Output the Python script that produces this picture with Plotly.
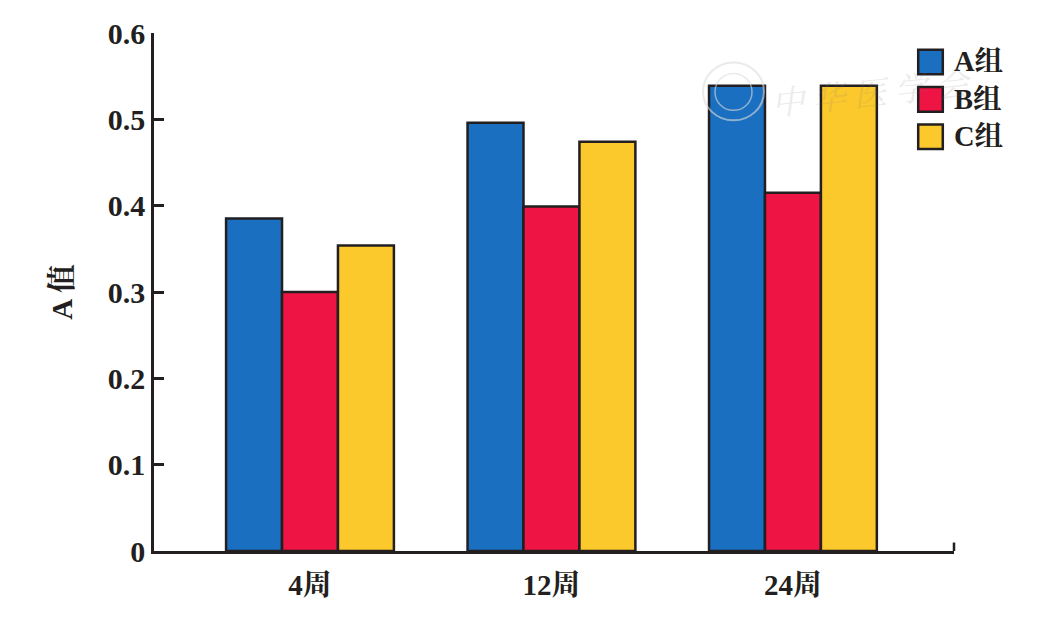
import plotly.graph_objects as go

categories = ["4周", "12周", "24周"]
series_names = ["A组", "B组", "C组"]
group_a = [0.385, 0.496, 0.539]
group_b = [0.300, 0.399, 0.415]
group_c = [0.354, 0.474, 0.539]
y_ticks = [0, 0.1, 0.2, 0.3, 0.4, 0.5, 0.6]
y_labels = ["0", "0.1", "0.2", "0.3", "0.4", "0.5", "0.6"]
colors = ["#1a6fc0", "#ee1443", "#fcc92d"]
INK = "#231f20"
FONT = "Liberation Serif, Noto Serif CJK SC, Noto Sans CJK SC, serif"

fig = go.Figure()
for name, vals, col in zip(series_names, [group_a, group_b, group_c], colors):
    fig.add_trace(go.Bar(x=[0, 1, 2], y=vals, name=name,
                         marker=dict(color=col, line=dict(color=INK, width=2.5)), showlegend=False))

# page offset: the browser body has an 8px margin
OFF = 8
W, H = 1044 - OFF, 620 - OFF
L, R, T, B = 154, 954, 32.5, 551.5
def px(x): return (x - L) / (R - L)
def py(y): return (B - y) / (B - T)

shapes = [dict(type="line", xref="paper", yref="paper", x0=1, x1=1, y0=0, y1=py(543),
               line=dict(color=INK, width=2.5))]
annotations = []
for i, (name, col) in enumerate(zip(series_names, colors)):
    cy = 61.5 + i * 37.5
    shapes.append(dict(type="rect", xref="paper", yref="paper", x0=px(918.2), x1=px(942.8),
                       y0=py(cy + 12.3), y1=py(cy - 12.3),
                       fillcolor=col, line=dict(color=INK, width=2.5)))
    annotations.append(dict(xref="paper", yref="paper", x=px(951.5), y=py(cy), text=f"<b>{name}</b>",
                            showarrow=False, xanchor="left", yanchor="middle",
                            font=dict(family=FONT, size=28.5, color=INK)))
annotations.append(dict(xref="paper", yref="paper", x=px(872), y=py(94), text="<i>中 华 医 学 会</i>",
                        showarrow=False, xanchor="center", yanchor="middle", textangle=-6, opacity=0.14,
                        font=dict(family=FONT, size=33, color="#777777")))
shapes.append(dict(type="circle", xref="paper", yref="paper", x0=px(703), x1=px(764), y0=py(120), y1=py(62),
                   line=dict(color="#dddddd", width=2), opacity=0.6, layer="above"))
shapes.append(dict(type="circle", xref="paper", yref="paper", x0=px(715), x1=px(752), y0=py(110), y1=py(73),
                   line=dict(color="#dddddd", width=1.5), opacity=0.6, layer="above"))

fig.update_layout(
    width=W, height=H, barmode="group", bargap=0.305, bargroupgap=0,
    margin=dict(l=L - OFF, r=1044 - R, t=T - OFF, b=620 - B, autoexpand=False),
    paper_bgcolor="white", plot_bgcolor="white",
    font=dict(family=FONT, size=28, color=INK),
    shapes=shapes, annotations=annotations,
    xaxis=dict(range=[-0.646, 2.667], tickvals=[0, 1, 2], ticktext=[f"<b>{c}</b>" for c in categories],
               ticks="outside", ticklen=6, tickcolor="rgba(0,0,0,0)", automargin=False,
               showgrid=False, zeroline=False, showline=True, linecolor=INK, linewidth=2.5,
               tickfont=dict(family=FONT, size=29, color=INK)),
    yaxis=dict(range=[0, 0.6], tickvals=y_ticks, ticktext=[f"<b>{t}</b>" for t in y_labels],
               ticks="inside", ticklen=10, tickwidth=2.5, automargin=False,
               tickcolor=INK, showgrid=False, zeroline=False, showline=True, linecolor=INK, linewidth=2.5,
               tickfont=dict(family=FONT, size=30, color=INK),
               title=dict(text="<b>A 值</b>", font=dict(family=FONT, size=29, color=INK), standoff=27)),
)
fig.write_html("out.html", config={"displayModeBar": False})
